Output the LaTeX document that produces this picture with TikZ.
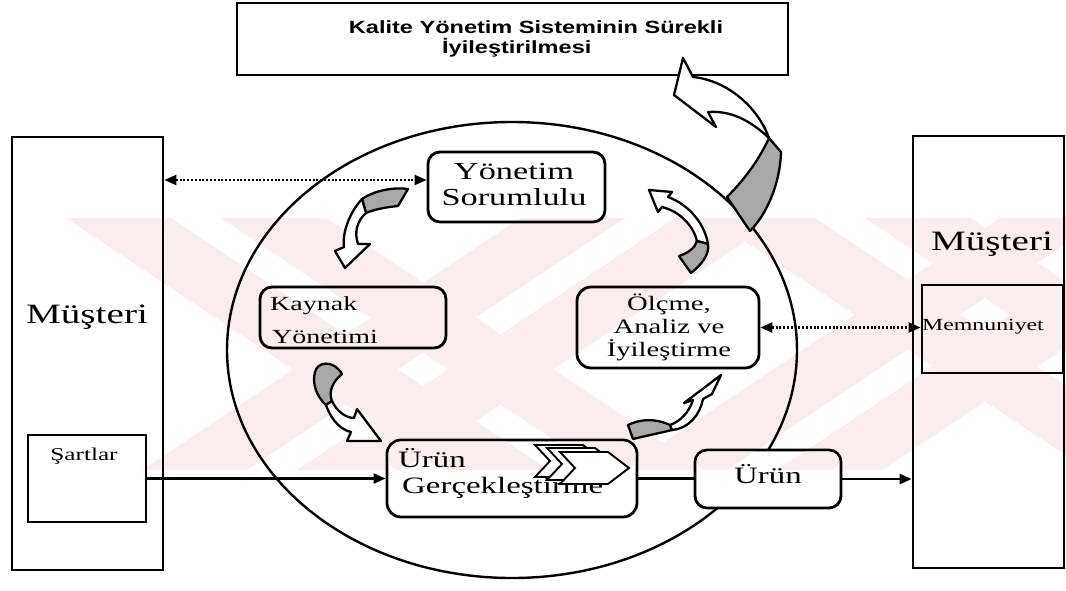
\documentclass[tikz,border=0pt]{standalone}
\usepackage{fontspec}
\usetikzlibrary{arrows.meta,fit,shapes.geometric}
\newfontfamily\tnr[FakeStretch=1.4]{Liberation Serif}
\newfontfamily\arb[FakeStretch=1.33]{Liberation Sans}
\definecolor{wmpink}{RGB}{249,237,238}
\definecolor{tailgray}{RGB}{168,168,168}
% diagonal bands of the faint background mark
\newcommand\wmbands{%
  \fill[wmpink]
    \foreach \a in {66,221,710,865} { (\a,218) -- (\a+105,218) -- (\a+483,470) -- (\a+378,470) -- cycle }
    \foreach \b in {520,675,1000,1155} { (\b,218) -- (\b+105,218) -- (\b-273,470) -- (\b-378,470) -- cycle };}
\begin{document}
\begin{tikzpicture}[x=1pt,y=-1pt,
  box/.style={draw, line width=2.8pt, inner sep=0pt},
  rbox/.style={box, rounded corners=12pt},
  txt/.style={inner sep=0pt},
  conn/.style={line width=2.3pt},
  dots/.style={line width=2.2pt, dash pattern=on 2pt off 1.8pt},
  tipend/.style={-{Triangle[length=12pt,width=10pt]}},
  tipboth/.style={{Triangle[length=12pt,width=10pt]}-{Triangle[length=12pt,width=10pt]}},
  ribbon/.style={draw, line width=2.3pt, line join=round, fill=white},
  shade/.style={draw, line width=2.3pt, line join=round, fill=tailgray},
  chev/.style={draw, line width=1.9pt, fill=white, line join=miter},
]
\useasboundingbox (0,0) rectangle (1066,590);

% faint background mark
\begin{scope}
  \clip (0,218) rectangle (1066,470);
  \wmbands
\end{scope}

% central cycle
\node[draw, ellipse, line width=2.4pt, minimum width=570pt, minimum height=456pt, inner sep=0pt] (loop) at (512,350) {};

% frames
\node[box, fit={(237,3) (788,75)}] (top) {};
\node[box, fit={(12,137) (163,570)}] (leftbox) {};
\node[box, fit={(28,435) (146,522)}] (sartlar) {};
\node[box, fit={(913,136) (1064,568)}] (rightbox) {};
\node[box, fit={(922,285) (1063,373)}] (memn) {};
\node[rbox, fit={(428,152) (605,222)}] (yon) {};
\node[rbox, fit={(260,287) (446,348)}] (kaynak) {};
\node[rbox, rounded corners=14pt, fit={(577,287) (759,368)}] (olcme) {};
\node[rbox, rounded corners=14pt, fill=white, fit={(387,440) (637,517)}] (urung) {};
\node[rbox, fill=white, fit={(695,450) (841,508)}] (urun) {};
% the mark shows through the two filled boxes
\begin{scope}
  \clip[rounded corners=12pt] (388.6,441.6) rectangle (635.4,470);
  \wmbands
\end{scope}
\begin{scope}
  \clip[rounded corners=10pt] (696.6,451.6) rectangle (839.4,470);
  \wmbands
\end{scope}

% connectors
\path ([yshift=7pt]yon.west) coordinate (yonin);
\draw[dots, tipboth] (leftbox.east |- yonin) -- (yonin);
\draw[dots, tipboth] (olcme.east) -- (olcme.east -| memn.west);
\draw[conn, tipend] (sartlar.east) -- (sartlar.east -| urung.west);
\draw[conn] (urung.east) -- (urung.east -| urun.west);
\draw[conn, tipend] (urun.east) -- (urun.east -| rightbox.west);

% curved block arrows of the cycle
% management -> resources
\draw[shade] (362,199) .. controls (375,190) and (395,187) .. (408,189) -- (398,206) .. controls (388,207) and (375,209) .. (366,213) -- cycle;
\draw[ribbon] (362,199) .. controls (350,212) and (342,232) .. (344,247) -- (335,251) -- (345,268) -- (370,244) -- (358,244) .. controls (354,232) and (357,221) .. (366,213) -- cycle;
% resources -> realization
\draw[shade] (315,372) .. controls (317,362) and (333,359) .. (342,374) .. controls (333,381) and (328,392) .. (332,401) -- (326,405) .. controls (316,396) and (312,383) .. (315,372) -- cycle;
\draw[ribbon] (326,405) .. controls (332,422) and (342,430) .. (351,432) -- (347,441) -- (381,441) -- (357,409) -- (354,418) .. controls (345,418) and (336,410) .. (332,401) -- cycle;
% realization -> measurement
\draw[shade] (670,425) .. controls (655,418) and (640,419) .. (628,425) -- (633,439) .. controls (645,436) and (660,433) .. (672,430) -- cycle;
\draw[ribbon] (672,430) .. controls (690,428) and (700,414) .. (703,399) -- (712,394) -- (721,375) -- (684,403) -- (693,400) .. controls (689,412) and (681,421) .. (670,425) -- cycle;
% measurement -> management
\draw[ribbon] (649,190) -- (672,192) -- (668,197) .. controls (690,205) and (705,225) .. (708,244) -- (697,241) .. controls (694,228) and (682,212) .. (662,207) -- (658,212) -- cycle;
\draw[shade] (708,244) .. controls (710,255) and (700,266) .. (691,273) -- (679,256) .. controls (688,253) and (695,248) .. (697,241) -- cycle;
% continual improvement
\draw[ribbon] (683,58) -- (693,77) .. controls (725,80) and (757,105) .. (769,138) .. controls (755,125) and (735,110) .. (708,112) -- (716,127) -- (674,95) -- cycle;
\draw[shade] (769,138) -- (781,152) .. controls (780,185) and (766,215) .. (750,231) -- (727,197) .. controls (742,182) and (758,162) .. (769,138) -- cycle;

% texts
\node[txt, font=\arb\bfseries\fontsize{17.7}{20}\selectfont, anchor=base] (t1) at (536,33) {Kalite Yönetim Sisteminin Sürekli};
\node[txt, font=\arb\bfseries\fontsize{17.7}{20}\selectfont, anchor=base west] (t2) at (442,53) {İyileştirilmesi};
\node[txt, font=\tnr\fontsize{28}{30}\selectfont, anchor=base] (musl) at (87,323) {Müşteri};
\node[txt, font=\tnr\fontsize{28}{30}\selectfont, anchor=base] (musr) at (992,250) {Müşteri};
\node[txt, font=\tnr\fontsize{17}{19}\selectfont, anchor=base west] (memnt) at (922,330) {Memnuniyet};
\node[txt, font=\tnr\fontsize{18}{20}\selectfont, anchor=base] (sartt) at (84,460) {Şartlar};
\node[txt, font=\tnr\fontsize{24.5}{26}\selectfont, anchor=base] (yon1) at (514,179) {Yönetim};
\node[txt, font=\tnr\fontsize{24.5}{26}\selectfont, anchor=base] (yon2) at (514,205) {Sorumlulu};
\node[txt, font=\tnr\fontsize{20}{22}\selectfont, anchor=base west] (kay1) at (270,310) {Kaynak};
\node[txt, font=\tnr\fontsize{20}{22}\selectfont, anchor=base west] (kay2) at (272,343) {Yönetimi};
\node[txt, font=\tnr\fontsize{20.5}{22}\selectfont, anchor=base] (olc1) at (669,310) {Ölçme,};
\node[txt, font=\tnr\fontsize{20.5}{22}\selectfont, anchor=base] (olc2) at (669,333) {Analiz ve};
\node[txt, font=\tnr\fontsize{20.5}{22}\selectfont, anchor=base] (olc3) at (669,356) {İyileştirme};
\node[txt, font=\tnr\fontsize{23.5}{25}\selectfont, anchor=base west] (urg1) at (398,467) {Ürün};
\node[txt, font=\tnr\fontsize{23.5}{25}\selectfont, anchor=base west] (urg2) at (402,493) {Gerçekleştirme};
\node[txt, font=\tnr\fontsize{23.5}{25}\selectfont, anchor=base] (urt) at (768,483) {Ürün};

% process chevrons over the realization box
\foreach \dx/\dy in {-25/-7, -13/-4, 0/0}{
  \begin{scope}[shift={(\dx,\dy)}]
    \draw[chev] (560,452) -- (608,452) -- (629,468) -- (608,484) -- (560,484) -- (575,468) -- cycle;
  \end{scope}
}
\end{tikzpicture}
\end{document}
